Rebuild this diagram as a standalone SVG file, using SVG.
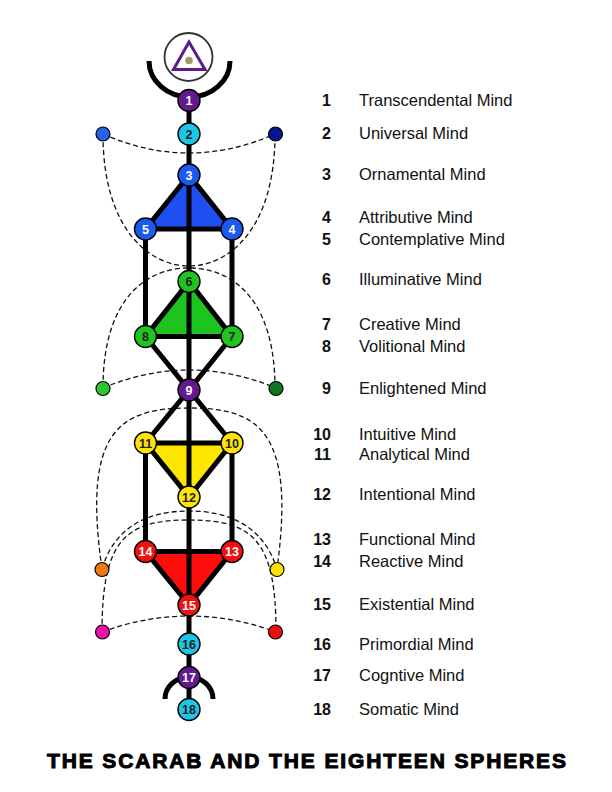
<svg xmlns="http://www.w3.org/2000/svg" width="612" height="792" viewBox="0 0 612 792">
<style>
.bg{fill:#ffffff}
.dash{fill:none;stroke:#111;stroke-width:1.3;stroke-dasharray:5 3}
.bar{fill:none;stroke:#000;stroke-width:5;stroke-linecap:butt}
.tri{stroke:#000;stroke-width:5;stroke-linejoin:miter}
.node{stroke:#000;stroke-width:1.4}
.dot{stroke:#000;stroke-width:1.2}
.nl{font-family:"Liberation Sans",Arial,sans-serif;font-weight:bold;font-size:12.5px;text-anchor:middle}
.w{fill:#fff}
.d{fill:#222}
.num{font-family:"Liberation Sans",Arial,sans-serif;font-weight:bold;font-size:16px;text-anchor:end;fill:#111}
.name{font-family:"Liberation Sans",Arial,sans-serif;font-size:16.5px;fill:#111}
.title{font-family:"Liberation Sans",Arial,sans-serif;font-weight:bold;font-size:21px;fill:#000;stroke:#000;stroke-width:1}
</style>
<rect class="bg" x="0" y="0" width="612" height="792"/>

<g id="connectors">
  <path class="dash" d="M103,134 Q189,172 275,134"/>
  <path class="dash" d="M103,134 C103,230 150,266 189,266 C228,266 275,230 275,134"/>
  <path class="dash" d="M103,388 C103,300 145,268 189,268 C233,268 275,300 275,388"/>
  <path class="dash" d="M103,388 Q189,352 276,388"/>
  <path class="dash" d="M102,569 C82,430 120,408 189,408 C258,408 296,430 277,569"/>
  <path class="dash" d="M102,569 C115,525 150,511 189,511 C228,511 263,525 277,569"/>
  <path class="dash" d="M102,632 C102,540 125,520 189,520 C253,520 276,540 276,632"/>
  <path class="dash" d="M102,632 Q189,600 276,632"/>

  <path class="bar" d="M149,61 A40.5,36 0 0 0 230,61"/>
  <path class="bar" d="M165,699 A24,22 0 0 1 213,699"/>

  <polygon class="tri" fill="#1f4ef2" points="189,175 145.5,229 232,229"/>
  <polygon class="tri" fill="#1ec41e" points="189,281.5 145.5,336.5 232,336.5"/>
  <polygon class="tri" fill="#ffe600" points="145.5,443 232,443 189,497"/>
  <polygon class="tri" fill="#ff0d0d" points="145.5,551.5 232,551.5 189,605"/>

  <path class="bar" d="M145.5,229 V336.5 M232,229 V336.5 M145.5,443 V551.5 M232,443 V551.5"/>
  <path class="bar" d="M145.5,336.5 L189,390 L232,336.5 M145.5,443 L189,390 L232,443"/>
  <path class="bar" d="M189,100 V709"/>
</g>

<g id="emblem">
  <circle cx="188.5" cy="57" r="24" fill="#fff" stroke="#333" stroke-width="1.8"/>
  <polygon points="189,42 173.5,69.5 205,69.5" fill="none" stroke="#5e1a8c" stroke-width="3"/>
  <circle cx="189" cy="60.5" r="3.8" fill="#a39a6c"/>
</g>

<g id="side-dots">
  <circle id="dot-blue" class="dot" cx="103" cy="134" r="7" fill="#2462ee"/>
  <circle id="dot-navy" class="dot" cx="275.5" cy="134" r="7" fill="#08168e"/>
  <circle id="dot-lgreen" class="dot" cx="103" cy="388.5" r="7" fill="#2ec62e"/>
  <circle id="dot-dgreen" class="dot" cx="276" cy="388.5" r="7" fill="#0b7a22"/>
  <circle id="dot-orange" class="dot" cx="102" cy="569.5" r="7" fill="#f07810"/>
  <circle id="dot-yellow" class="dot" cx="277" cy="569.5" r="7" fill="#ffe000"/>
  <circle id="dot-magenta" class="dot" cx="102.5" cy="632" r="7" fill="#ee10a8"/>
  <circle id="dot-red" class="dot" cx="275.5" cy="632" r="7" fill="#ee1010"/>
</g>

<g id="n1"><circle class="node" cx="189" cy="100.5" r="11" fill="#621a8e"/><text class="nl w" x="189" y="105">1</text></g>
<g id="n2"><circle class="node" cx="189" cy="134" r="11" fill="#1cc6e6"/><text class="nl d" x="189" y="138.5">2</text></g>
<g id="n3"><circle class="node" cx="189" cy="175" r="11" fill="#1a5af0"/><text class="nl w" x="189" y="179.5">3</text></g>
<g id="n4"><circle class="node" cx="232" cy="229" r="11" fill="#1a5af0"/><text class="nl w" x="232" y="233.5">4</text></g>
<g id="n5"><circle class="node" cx="145.5" cy="229" r="11" fill="#1a5af0"/><text class="nl w" x="145.5" y="233.5">5</text></g>
<g id="n6"><circle class="node" cx="189" cy="281.5" r="11" fill="#1fc41f"/><text class="nl d" x="189" y="286">6</text></g>
<g id="n7"><circle class="node" cx="232" cy="336.5" r="11" fill="#1fc41f"/><text class="nl d" x="232" y="341">7</text></g>
<g id="n8"><circle class="node" cx="145.5" cy="336.5" r="11" fill="#1fc41f"/><text class="nl d" x="145.5" y="341">8</text></g>
<g id="n9"><circle class="node" cx="189" cy="390" r="11" fill="#621a8e"/><text class="nl w" x="189" y="394.5">9</text></g>
<g id="n10"><circle class="node" cx="232" cy="443" r="11" fill="#ffe20a"/><text class="nl d" x="232" y="447.5">10</text></g>
<g id="n11"><circle class="node" cx="145.5" cy="443" r="11" fill="#ffe20a"/><text class="nl d" x="145.5" y="447.5">11</text></g>
<g id="n12"><circle class="node" cx="189" cy="497" r="11" fill="#ffe20a"/><text class="nl d" x="189" y="501.5">12</text></g>
<g id="n13"><circle class="node" cx="232" cy="551.5" r="11" fill="#f01010"/><text class="nl w" x="232" y="556">13</text></g>
<g id="n14"><circle class="node" cx="145.5" cy="551.5" r="11" fill="#f01010"/><text class="nl w" x="145.5" y="556">14</text></g>
<g id="n15"><circle class="node" cx="189" cy="605" r="11" fill="#f01010"/><text class="nl w" x="189" y="609.5">15</text></g>
<g id="n16"><circle class="node" cx="189" cy="644" r="11" fill="#1cc6e6"/><text class="nl d" x="189" y="648.5">16</text></g>
<g id="n17"><circle class="node" cx="189" cy="677.5" r="11" fill="#621a8e"/><text class="nl w" x="189" y="682">17</text></g>
<g id="n18"><circle class="node" cx="189" cy="709.5" r="11" fill="#1cc6e6"/><text class="nl d" x="189" y="714">18</text></g>

<g id="legend">
  <text class="num" x="331" y="106">1</text><text class="name" x="359" y="106">Transcendental Mind</text>
  <text class="num" x="331" y="138.5">2</text><text class="name" x="359" y="138.5">Universal Mind</text>
  <text class="num" x="331" y="180">3</text><text class="name" x="359" y="180">Ornamental Mind</text>
  <text class="num" x="331" y="222.5">4</text><text class="name" x="359" y="222.5">Attributive Mind</text>
  <text class="num" x="331" y="245">5</text><text class="name" x="359" y="245">Contemplative Mind</text>
  <text class="num" x="331" y="285">6</text><text class="name" x="359" y="285">Illuminative Mind</text>
  <text class="num" x="331" y="330">7</text><text class="name" x="359" y="330">Creative Mind</text>
  <text class="num" x="331" y="352">8</text><text class="name" x="359" y="352">Volitional Mind</text>
  <text class="num" x="331" y="393.5">9</text><text class="name" x="359" y="393.5">Enlightened Mind</text>
  <text class="num" x="331" y="439.5">10</text><text class="name" x="359" y="439.5">Intuitive Mind</text>
  <text class="num" x="331" y="459.5">11</text><text class="name" x="359" y="459.5">Analytical Mind</text>
  <text class="num" x="331" y="500">12</text><text class="name" x="359" y="500">Intentional Mind</text>
  <text class="num" x="331" y="545">13</text><text class="name" x="359" y="545">Functional Mind</text>
  <text class="num" x="331" y="567">14</text><text class="name" x="359" y="567">Reactive Mind</text>
  <text class="num" x="331" y="610">15</text><text class="name" x="359" y="610">Existential Mind</text>
  <text class="num" x="331" y="650">16</text><text class="name" x="359" y="650">Primordial Mind</text>
  <text class="num" x="331" y="681">17</text><text class="name" x="359" y="681">Cogntive Mind</text>
  <text class="num" x="331" y="714.5">18</text><text class="name" x="359" y="714.5">Somatic Mind</text>
</g>

<text class="title" x="47" y="768" textLength="519" lengthAdjust="spacing">THE SCARAB AND THE EIGHTEEN SPHERES</text>
</svg>
